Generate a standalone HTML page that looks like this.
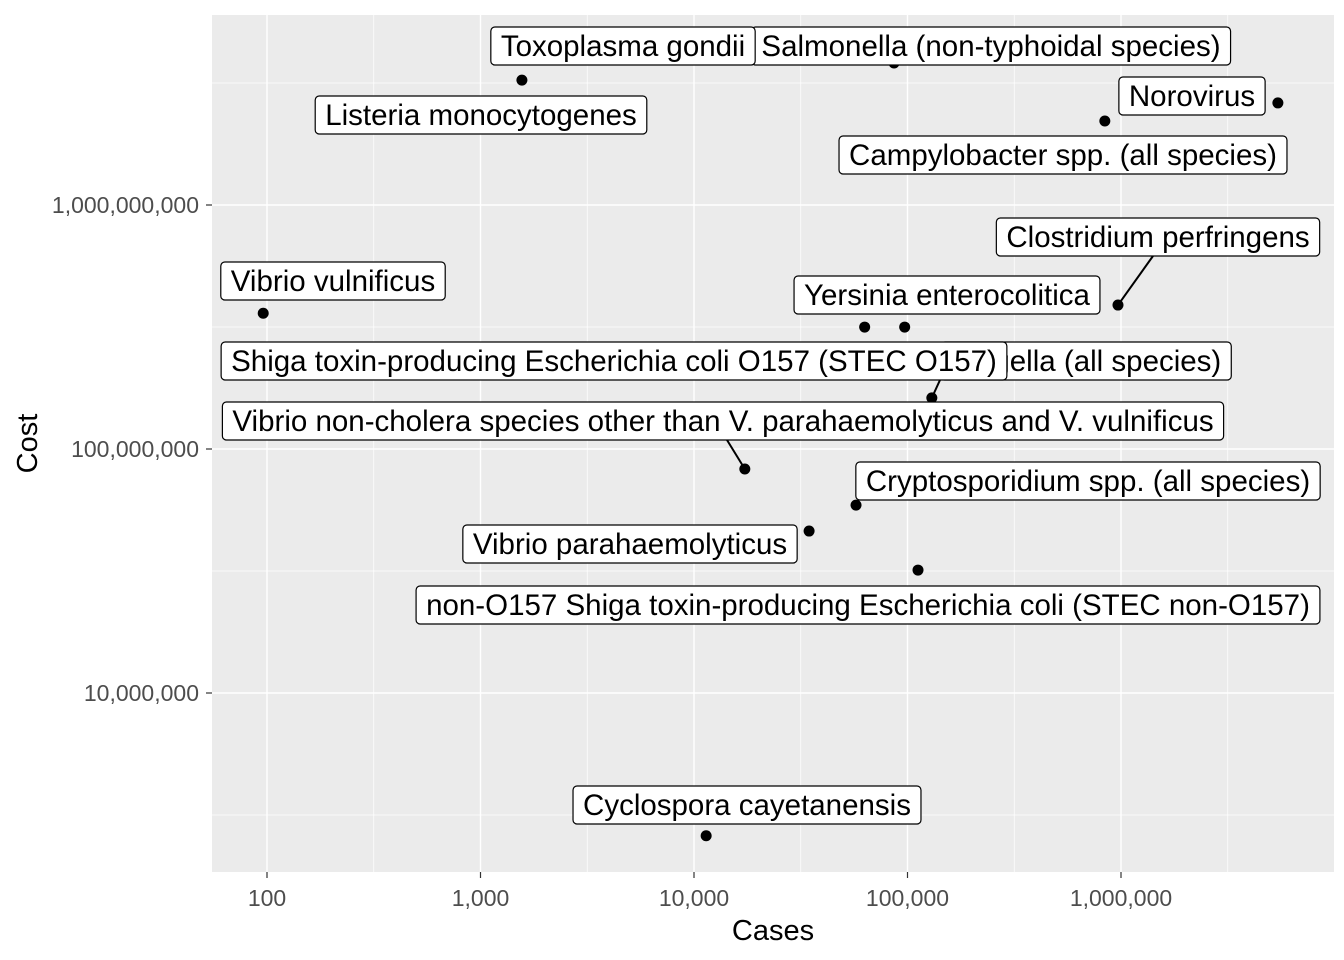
<!DOCTYPE html>
<html><head><meta charset="utf-8"><style>
body{margin:0;background:#fff;}
svg{display:block;font-family:"Liberation Sans",Arial,sans-serif;}
</style></head><body>
<svg id="chart" width="1344" height="960" viewBox="0 0 1344 960"></svg>
<script>
const names=["Salmonella (non-typhoidal species)","Toxoplasma gondii","Listeria monocytogenes","Norovirus","Campylobacter spp. (all species)","Clostridium perfringens","Vibrio vulnificus","Yersinia enterocolitica","Shigella (all species)","Shiga toxin-producing Escherichia coli O157 (STEC O157)","Vibrio non-cholera species other than V. parahaemolyticus and V. vulnificus","Cryptosporidium spp. (all species)","Vibrio parahaemolyticus","non-O157 Shiga toxin-producing Escherichia coli (STEC non-O157)","Cyclospora cayetanensis"];
const cases=[86500,1563,1591,5430000,840000,968000,96,63000,130000,97000,17300,57400,34600,112000,11400];
const costs=[3.82e9,3.25e9,2.6e9,2.62e9,2.21e9,3.89e8,3.6e8,3.16e8,1.62e8,3.16e8,8.28e7,5.89e7,4.61e7,3.19e7,2.6e6];
const labelCx=[991,623,481,1192,1063,1158,333,947,1086,614,723,1088,630,868,747];
const labelCy=[46,46,115,96,155,237,281,295,361,361,421,481,544,605,805];
const showSeg=[0,0,0,0,0,1,0,0,1,0,1,0,0,0,0];
const segTx=[0,0,0,0,0,1153,0,0,940,0,727,0,0,0,0];
const xTicks=[100,1000,10000,100000,1000000];
const yTicks=[1e7,1e8,1e9];
const fmt=v=>v.toLocaleString('en-US');
const L={l:212,r:1334,t:15,b:872};
const X=v=>267+(Math.log10(v)-2)*213.5;
const Y=v=>205-(Math.log10(v)-9)*244;
const svg=document.getElementById('chart');
const NS='http://www.w3.org/2000/svg';
function mk(t,a,p){const e=document.createElementNS(NS,t);for(const k in a)e.setAttribute(k,a[k]);(p||svg).appendChild(e);return e;}
const bg=mk('rect',{x:L.l,y:L.t,width:L.r-L.l,height:L.b-L.t,fill:'#EBEBEB'});


for(let d=1;d<=6;d++){const x=X(Math.pow(10,d+0.5));if(x>L.l&&x<L.r)mk('line',{x1:x,x2:x,y1:L.t,y2:L.b,stroke:'#fff','stroke-width':0.7});}
for(let d=5;d<=10;d++){const y=Y(Math.pow(10,d+0.5));if(y>L.t&&y<L.b)mk('line',{x1:L.l,x2:L.r,y1:y,y2:y,stroke:'#fff','stroke-width':0.7});}
xTicks.forEach(v=>{const x=X(v);mk('line',{x1:x,x2:x,y1:L.t,y2:L.b,stroke:'#fff','stroke-width':1.4});mk('line',{x1:x,x2:x,y1:L.b,y2:L.b+6,stroke:'#333','stroke-width':1.2});
const t=mk('text',{x:x,y:L.b+34,'text-anchor':'middle','font-size':23,fill:'#4D4D4D'});t.textContent=fmt(v);

});
yTicks.forEach(v=>{const y=Y(v);mk('line',{x1:L.l,x2:L.r,y1:y,y2:y,stroke:'#fff','stroke-width':1.4});mk('line',{x1:L.l-6,x2:L.l,y1:y,y2:y,stroke:'#333','stroke-width':1.2});
const t=mk('text',{x:L.l-13,y:y+8,'text-anchor':'end','font-size':23,fill:'#4D4D4D'});t.textContent=fmt(v);

});
const xt=mk('text',{x:(L.l+L.r)/2,y:940,'text-anchor':'middle','font-size':29,fill:'#000'});xt.textContent='Cases';


const yt=mk('text',{x:0,y:0,'text-anchor':'middle','font-size':29,fill:'#000',transform:'translate(37,'+((L.t+L.b)/2)+') rotate(-90)'});yt.textContent='Cost';


names.forEach((n,i)=>{const c=mk('circle',{cx:X(cases[i]),cy:Y(costs[i]),r:5.5,fill:'#000'});

});
names.forEach((n,i)=>{
const g=mk('g',{});


const t=mk('text',{x:labelCx[i],y:labelCy[i]+10,'text-anchor':'middle','font-size':29.5,fill:'#000'},g);t.textContent=n;
const w=t.getComputedTextLength()+20,h=38;
const bx=labelCx[i]-w/2,by=labelCy[i]-h/2;
const px=X(cases[i]),py=Y(costs[i]);
if(showSeg[i]){
 const ey=py>labelCy[i]?by+h:by;
 const seg=mk('line',{x1:px,y1:py,x2:segTx[i],y2:ey,stroke:'#000','stroke-width':2});svg.insertBefore(seg,g);
}
const r=mk('rect',{x:bx,y:by,width:w,height:h,rx:4,fill:'#fff',stroke:'#000','stroke-width':1.2},g);
g.insertBefore(r,t);
});
</script>
</body></html>
